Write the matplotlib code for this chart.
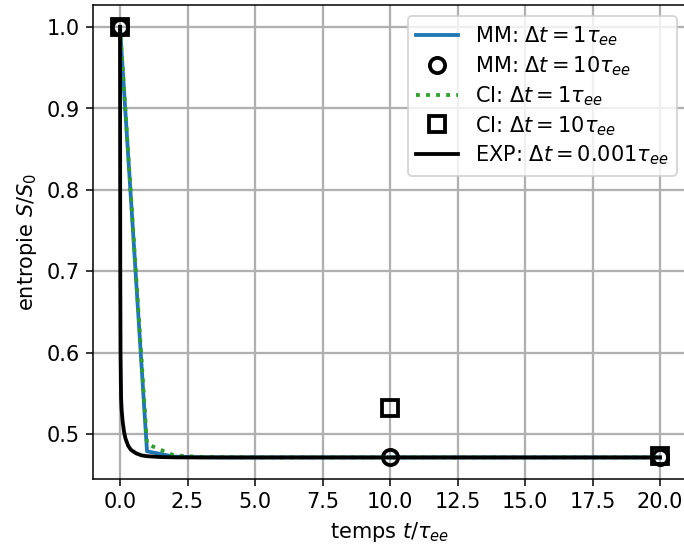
import matplotlib

matplotlib.use("Agg")
import matplotlib.pyplot as plt

# MM / CI with dt = 1 tau_ee : one value per step, t = 0..20
t_step1 = list(range(21))
mm_dt1 = [1.0, 0.479, 0.4725, 0.4717, 0.4715, 0.4715, 0.4715, 0.4715, 0.4715, 0.4715,
          0.4715, 0.4715, 0.4715, 0.4715, 0.4715, 0.4715, 0.4715, 0.4715, 0.4715, 0.4715, 0.4715]
ci_dt1 = [1.0, 0.488, 0.474, 0.4722, 0.4717, 0.4715, 0.4715, 0.4715, 0.4715, 0.4715,
          0.4715, 0.4715, 0.4715, 0.4715, 0.4715, 0.4715, 0.4715, 0.4715, 0.4715, 0.4715, 0.4715]

# dt = 10 tau_ee
t_step10 = [0, 10, 20]
mm_dt10 = [1.0, 0.4715, 0.4715]
ci_dt10 = [1.0, 0.532, 0.473]

# reference (dt = 0.001 tau_ee), sampled from the curve
t_exp = [0, 0.01, 0.02, 0.04, 0.06, 0.1, 0.15, 0.2, 0.3, 0.4, 0.6, 0.8, 1.0, 1.5, 2.0, 3.0, 5.0, 20.0]
s_exp = [1.0, 0.70, 0.60, 0.545, 0.53, 0.515, 0.503, 0.495, 0.486, 0.481, 0.4765, 0.474,
         0.473, 0.472, 0.4716, 0.4715, 0.4715, 0.4715]

plt.rcParams["font.size"] = 11

fig = plt.figure(figsize=(5.0, 4.0), dpi=136.8)
ax = fig.add_axes([93 / 684, 1 - 479 / 547, 594 / 684, 473.5 / 547])

ax.plot(t_step1, mm_dt1, color="tab:blue", lw=2, label=r"MM: $\Delta t = 1\tau_{ee}$")
ax.plot(t_step10, mm_dt10, "o", ms=8, mfc="none", mec="black", mew=2,
        label=r"MM: $\Delta t = 10\tau_{ee}$")
ax.plot(t_step1, ci_dt1, color="tab:green", lw=2, ls=":", label=r"CI: $\Delta t = 1\tau_{ee}$")
ax.plot(t_step10, ci_dt10, "s", ms=8, mfc="none", mec="black", mew=2,
        label=r"CI: $\Delta t = 10\tau_{ee}$")
ax.plot(t_exp, s_exp, color="black", lw=2, label=r"EXP: $\Delta t = 0.001\tau_{ee}$")

ax.set_xlabel(r"temps $t/\tau_{ee}$")
ax.set_ylabel(r"entropie $S/S_0$")
ax.grid(True, color="#b0b0b0", lw=1.2)
ax.legend(loc="upper right", labelspacing=0.3)

fig.savefig("out.png", dpi=136.8)
